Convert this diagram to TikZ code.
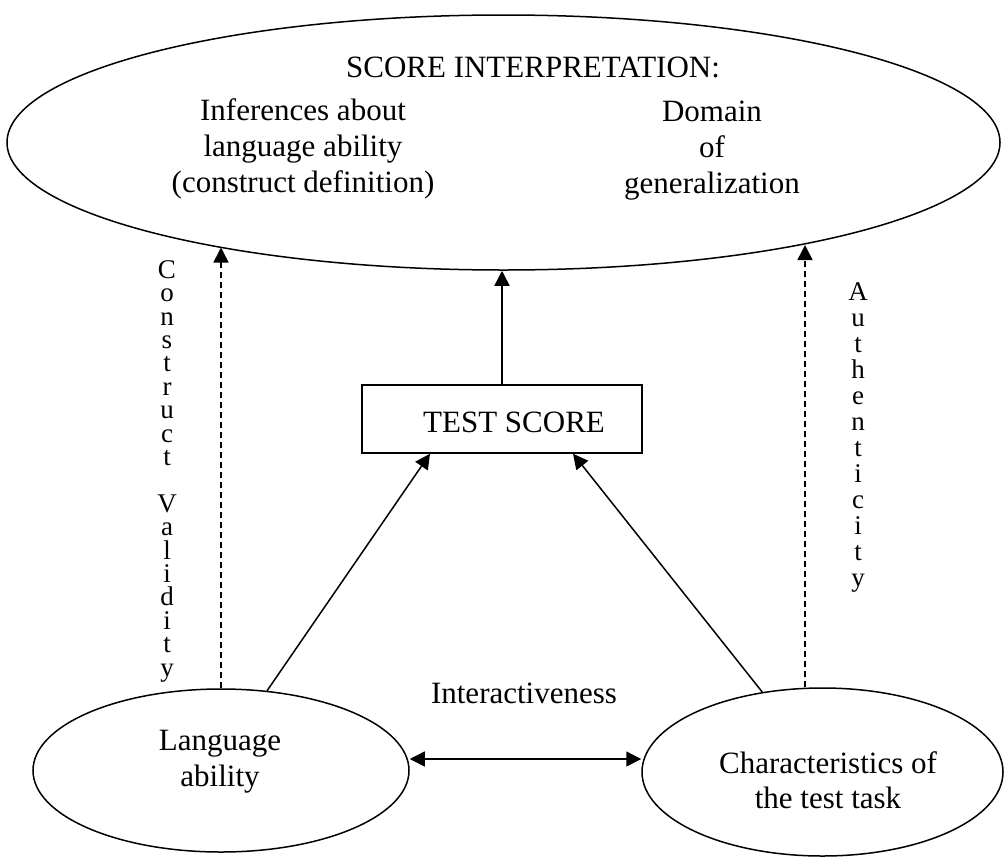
\documentclass[tikz,border=0pt]{standalone}
\usepackage{fontspec}
\setmainfont{Liberation Serif}
\usetikzlibrary{shapes.geometric,arrows.meta}
\newcommand\tightlines{\lineskiplimit-100pt\relax}
\begin{document}
\begin{tikzpicture}[x=1pt,y=-1pt,
  oval/.style={draw,ellipse,line width=1.5pt,inner sep=0pt},
  lbl/.style={font=\fontsize{31}{36}\selectfont,anchor=base,inner sep=0pt},
  vtext/.style={align=center,inner sep=0pt,anchor=north},
  arr/.style={line width=1.5pt,-{Triangle[length=15pt,width=15pt]}},
  darr/.style={arr,dash pattern=on 6pt off 4pt},
  darr2/.style={line width=1.5pt,{Triangle[length=15pt,width=15pt]}-{Triangle[length=15pt,width=15pt]}},
]
\useasboundingbox (0,0) rectangle (1006,857);
% shapes
\node[oval,minimum width=993pt,minimum height=255pt] (si) at (503.5,142.5) {};
\node[oval,minimum width=376pt,minimum height=163pt] (la) at (221,770.5) {};
\node[oval,minimum width=361pt,minimum height=168pt] (ta) at (822.5,772) {};
\node[draw,line width=1.5pt,minimum width=280pt,minimum height=68pt,inner sep=0pt] (ts) at (502,419) {};
% texts
\node[lbl] (t1) at (533,77) {SCORE INTERPRETATION:};
\node[lbl] (t2) at (303,120) {Inferences about};
\node[lbl] (t3) at (303,156) {language ability};
\node[lbl] (t4) at (303,192) {(construct definition)};
\node[lbl] (t5) at (712,121) {Domain};
\node[lbl] (t6) at (712,157) {of};
\node[lbl] (t7) at (712,193) {generalization};
\node[lbl] (tst) at (514,432) {TEST SCORE};
\node[lbl] (inter) at (524,703) {Interactiveness};
\node[lbl] (l1) at (220,750) {Language};
\node[lbl] (l2) at (220,786) {ability};
\node[lbl] (c1) at (828,773) {Characteristics of};
\node[lbl] (c2) at (828,808) {the test task};
% vertical labels
\node[vtext,font={\fontsize{27}{23.4}\selectfont\tightlines}] (cv) at (167,260.3)
  {C\\o\\n\\s\\t\\r\\u\\c\\t\\ \\V\\a\\l\\i\\d\\i\\t\\y};
\node[vtext,font={\fontsize{27}{26}\selectfont\tightlines}] (au) at (858,282.3)
  {A\\u\\t\\h\\e\\n\\t\\i\\c\\i\\t\\y};
% connectors
\coordinate (cvTop) at (221,247.5);
\coordinate (auTop) at (805,245);
\draw[arr] (ts.north) -- (ts.north |- si.south);
\draw[arr] (la.60) -- ([xshift=-72pt]ts.south);
\draw[arr] (ta.127) -- ([xshift=71pt]ts.south);
\draw[darr] (la.north) -- (cvTop);
\draw[darr] (auTop |- ta.north) -- (auTop);
\draw[darr2] ([yshift=11.5pt]la.east) -- ([yshift=13pt]ta.west);
\end{tikzpicture}
\end{document}
